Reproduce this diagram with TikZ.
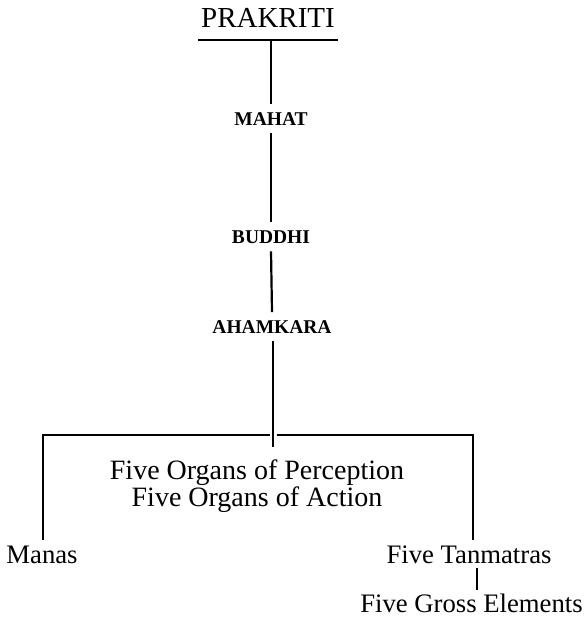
\documentclass[tikz,border=0pt]{standalone}
\usepackage{fontspec}
\setmainfont{Liberation Serif}
\begin{document}
\begin{tikzpicture}[x=1pt,y=-1pt,
  every path/.style={line width=2.2pt},
  big/.style={font=\fontsize{29}{32}\selectfont, inner xsep=2pt, inner ysep=11pt, anchor=base},
  tattva/.style={font=\bfseries\fontsize{19.5}{22}\selectfont, inner sep=7pt, anchor=base},
  body/.style={font=\fontsize{26.7}{29}\selectfont, inner xsep=4pt, inner ysep=4pt, anchor=base},
  organs/.style={font=\fontsize{28}{27}\selectfont, align=center, inner sep=0pt, anchor=base}]
\useasboundingbox (0,0) rectangle (584,623);
\node[big] (prak) at (268,28) {PRAKRITI};
\node[tattva] (mahat) at (271,125) {MAHAT};
\node[tattva] (buddhi) at (271,243) {BUDDHI};
\node[tattva] (aham) at (272,333) {AHAMKARA};
\node[organs] (org) at (257,506) {Five Organs of Perception\\Five Organs of Action};
\node[body] (manas) at (42,563) {Manas};
\node[body] (tanm) at (469,563) {Five Tanmatras};
\node[body, inner ysep=2pt] (gross) at (471.5,612) {Five Gross Elements};
\coordinate (stem) at (273,447);
\coordinate (barL) at (43,435);
\coordinate (barR) at (473,435);
\coordinate (gapL) at (269.5,435);
\coordinate (gapR) at (276.5,435);
\draw (prak.south west) -- (prak.south east);
\draw (prak.south) ++(3pt,0) coordinate (p0) -- (p0 |- mahat.north);
\draw (mahat.south) -- (buddhi.north);
\draw (buddhi.south) -- (aham.north);
\draw (aham.south) ++(1pt,0) coordinate (a0) -- (stem);
\draw (barL |- manas.north) -- (barL) -- (gapL);
\draw (gapR) -- (barR) -- (barR |- tanm.north);
\draw ([xshift=8pt]tanm.south) coordinate (t0) -- (t0 |- gross.north);
\end{tikzpicture}
\end{document}
